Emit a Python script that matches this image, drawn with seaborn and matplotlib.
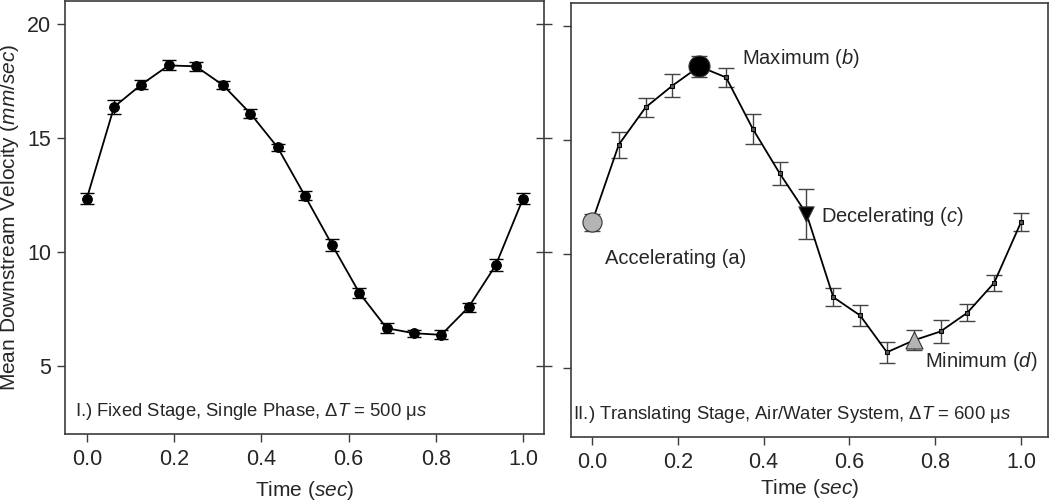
import numpy as np
import pandas as pd
import matplotlib
matplotlib.use("Agg")
import matplotlib.pyplot as plt
import seaborn as sns

# dados
tempo = [0.0, 0.0625, 0.125, 0.1875, 0.25, 0.3125, 0.375, 0.4375, 0.5,
         0.5625, 0.625, 0.6875, 0.75, 0.8125, 0.875, 0.9375, 1.0]

vel_fixo = [12.33, 16.35, 17.33, 18.17, 18.13, 17.30, 16.06, 14.57, 12.45,
            10.29, 8.18, 6.64, 6.42, 6.35, 7.56, 9.41, 12.33]
err_fixo = [0.25, 0.29, 0.20, 0.22, 0.20, 0.18, 0.20, 0.17, 0.20,
            0.25, 0.22, 0.22, 0.15, 0.20, 0.20, 0.25, 0.25]

vel_trans = [11.40, 14.80, 16.43, 17.38, 18.22, 17.74, 15.48, 13.54, 11.77,
             8.12, 7.32, 5.71, 6.23, 6.62, 7.44, 8.75, 11.40]
err_trans = [0.38, 0.57, 0.42, 0.51, 0.47, 0.42, 0.66, 0.49, 1.09,
             0.40, 0.44, 0.47, 0.44, 0.50, 0.37, 0.34, 0.39]

# pontos destacados no painel II
fases = ['Accelerating (a)', 'Maximum ($b$)', 'Decelerating ($c$)', 'Minimum ($d$)']
fase_idx = [0, 4, 8, 12]
fase_marker = ['o', 'o', 'v', '^']
fase_cor = ['#b4b4b4', 'black', 'black', '#b4b4b4']
fase_tam = [190, 230, 120, 150]
fase_texto_xy = [(0.03, 9.83), (0.35, 18.56), (0.534, 11.65), (0.776, 5.31)]

df_fixo = pd.DataFrame({'t': tempo, 'v': vel_fixo, 'e': err_fixo})
df_trans = pd.DataFrame({'t': tempo, 'v': vel_trans, 'e': err_trans})

sns.set_style('white')
plt.rcParams['font.family'] = ['Liberation Sans', 'DejaVu Sans']
plt.rcParams['mathtext.fontset'] = 'custom'
plt.rcParams['mathtext.rm'] = 'Liberation Sans'
plt.rcParams['mathtext.it'] = 'Liberation Sans:italic'
plt.rcParams['mathtext.default'] = 'it'

cor_eixo = '#3c3c3c'
fig = plt.figure(figsize=(10.5, 5.03), dpi=100)
ax1 = fig.add_axes([0.0619, 0.1372, 0.4562, 0.861])
ax2 = fig.add_axes([0.5438, 0.1312, 0.4543, 0.863])

# Painel I
ax1.errorbar(df_fixo['t'], df_fixo['v'], yerr=df_fixo['e'], fmt='none',
             ecolor='black', elinewidth=1.0, capsize=5, capthick=1.0, zorder=2)
sns.lineplot(data=df_fixo, x='t', y='v', ax=ax1, color='black', lw=1.3,
             marker='o', markersize=7, markeredgecolor='black', zorder=3)

# Painel II
ax2.errorbar(df_trans['t'], df_trans['v'], yerr=df_trans['e'], fmt='none',
             ecolor='#444444', elinewidth=1.0, capsize=6, capthick=1.0, zorder=2)
sns.lineplot(data=df_trans, x='t', y='v', ax=ax2, color='black', lw=1.3,
             marker='s', markersize=3.2, markerfacecolor='#555555',
             markeredgecolor='black', zorder=3)
for i, m, c, s in zip(fase_idx, fase_marker, fase_cor, fase_tam):
    sns.scatterplot(x=[tempo[i]], y=[vel_trans[i]], ax=ax2, marker=m, color=c,
                    s=s, edgecolor='#333333', linewidth=0.8, zorder=4)
for txt, (tx, ty) in zip(fases, fase_texto_xy):
    ax2.text(tx, ty, txt, fontsize=14.5, ha='left', va='center')

ax1.text(0.02, 0.028, 'I.) Fixed Stage, Single Phase, Δ$T$ = 500 μ$s$',
         transform=ax1.transAxes, fontsize=13.3, ha='left', va='bottom')
ax2.text(0.005, 0.028, 'II.) Translating Stage, Air/Water System, Δ$T$ = 600 μ$s$',
         transform=ax2.transAxes, fontsize=13.3, ha='left', va='bottom')

for ax, xl, lp in [(ax1, (-0.05, 1.048), 6), (ax2, (-0.049, 1.063), 3)]:
    ax.set_xlim(*xl)
    ax.set_ylim(2.0, 21.0)
    ax.set_xticks([0.0, 0.2, 0.4, 0.6, 0.8, 1.0])
    ax.set_xticklabels(['0.0', '0.2', '0.4', '0.6', '0.8', '1.0'])
    ax.set_yticks([5, 10, 15, 20])
    ax.set_xlabel('Time ($sec$)', fontsize=15, labelpad=lp)
    ax.set_ylabel('')
    for sp in ax.spines.values():
        sp.set_color(cor_eixo)
        sp.set_linewidth(1.2)
    ax.tick_params(axis='both', labelsize=15.5, color=cor_eixo, width=1.0,
                   length=6, pad=5, bottom=True, left=True, direction='out')
    legend = ax.get_legend()
    if legend:
        legend.remove()

ax1.set_ylabel('Mean Downstream Velocity ($mm/sec$)', fontsize=15, labelpad=4)
ax1.tick_params(axis='y', pad=4)

# marcas à direita do painel I (atravessando o eixo)
sec = ax1.secondary_yaxis('right')
sec.set_yticks([5, 10, 15, 20])
sec.tick_params(axis='y', direction='inout', length=12, width=1.0,
                color=cor_eixo, labelright=False)
sec.spines['right'].set_visible(False)

ax2.tick_params(axis='y', labelleft=False)

fig.savefig('out.png', dpi=100)
